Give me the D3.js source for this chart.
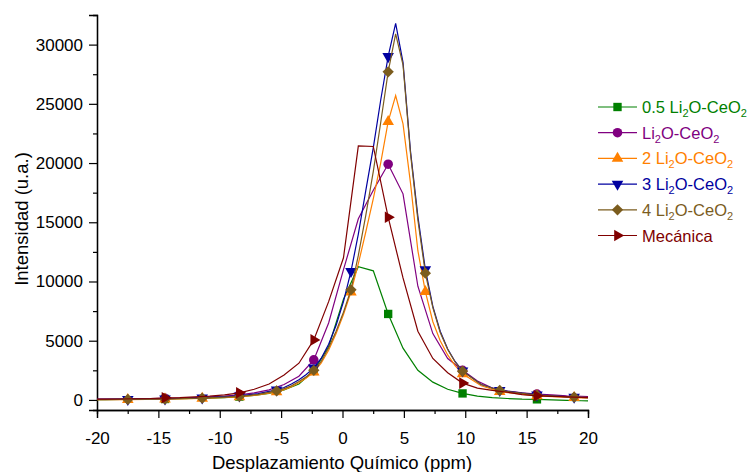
<!DOCTYPE html>
<html>
<head>
<meta charset="utf-8">
<script src="https://cdn.jsdelivr.net/npm/d3@7"></script>
<style>
  body { margin: 0; background: #fff; }
  svg { display: block; font-family: Arial, "Liberation Sans", sans-serif; }
</style>
</head>
<body>
<svg id="chart" width="749" height="472"></svg>
<script>
// Chemical shift grids (ppm): fine grid (0.606 ppm) and coarse grid (1.212 ppm)
const xFine = [-20, -17.49, -14.46, -11.43, -8.40, -6.88, -5.37, -4.76, -4.16, -3.55, -2.95, -2.34,
  -1.74, -1.13, -0.52, 0.08, 0.69, 1.29, 1.90, 2.51, 3.11, 3.72, 4.33, 4.93, 5.54, 6.14, 6.75,
  7.36, 7.96, 8.57, 9.17, 9.78, 11.30, 12.81, 15.84, 18.87, 20];
const xCoarse = [-20, -19.31, -18.10, -16.88, -15.67, -14.46, -13.25, -12.04, -10.82, -9.61, -8.40,
  -7.19, -5.98, -4.76, -3.55, -2.34, -1.13, 0.08, 1.29, 2.51, 3.72, 4.93, 6.14, 7.36, 8.57, 9.78,
  10.99, 12.20, 13.42, 14.63, 15.84, 17.05, 18.26, 19.48, 20];

// Positions that carry a symbol
const markFine = [-17.49, -14.46, -11.43, -8.40, -5.37, -2.34, 0.69, 3.72, 6.75, 9.78, 12.81, 15.84, 18.87];
const markCoarse = [-14.46, -8.40, -2.34, 3.72, 9.78, 15.84];

// Intensities (a.u.)
const y05Li2O = [30, 30, 40, 50, 60, 80, 100, 120, 150, 200, 280, 380, 550, 850, 1350, 2450, 4500,
  8500, 11250, 10900, 7260, 4370, 2500, 1500, 900, 550, 320, 200, 120, 60, 50, 0, -40, -70, -80];
const y1Li2O = [60, 70, 80, 90, 110, 130, 160, 200, 260, 330, 430, 600, 850, 1300, 2000, 3380, 6500,
  11000, 15300, 17700, 19900, 17400, 9600, 5600, 3500, 2500, 1600, 1000, 750, 600, 500, 420, 350, 310, 290];
const y2Li2O = [20, 30, 60, 120, 250, 420, 680, 870, 1120, 1450, 1850, 2350, 3100, 4200, 5600, 7200,
  9100, 11500, 14200, 17000, 20000, 23500, 25700, 23300, 18300, 12600, 9150, 6600, 5000, 3800, 2900,
  2200, 1200, 700, 350, 200, 160];
const y3Li2O = [50, 60, 100, 180, 350, 530, 850, 1050, 1350, 1700, 2150, 2700, 3500, 4700, 6300, 8300,
  10850, 14000, 17700, 21300, 25300, 29000, 31800, 28500, 21000, 15500, 11000, 7900, 5800, 4300, 3250,
  2450, 1300, 820, 420, 240, 200];
const y4Li2O = [30, 40, 80, 150, 300, 470, 760, 950, 1200, 1550, 1950, 2500, 3250, 4400, 5800, 7400,
  9300, 12200, 15600, 19300, 23400, 27700, 30900, 28300, 20800, 15200, 10700, 7800, 5700, 4250, 3200,
  2420, 1300, 800, 400, 240, 200];
const yMecanica = [60, 70, 80, 100, 120, 180, 200, 250, 320, 420, 600, 900, 1350, 2100, 3100, 5070,
  8300, 12000, 21450, 21400, 15430, 10300, 5800, 3500, 2300, 1420, 1000, 800, 650, 450, 350, 300, 250, 220, 210];

// Legend labels: [prefix, subscript, middle, subscript] pieces
const labels = [
  ["0.5 Li", "2", "O-CeO", "2"],
  ["Li", "2", "O-CeO", "2"],
  ["2 Li", "2", "O-CeO", "2"],
  ["3 Li", "2", "O-CeO", "2"],
  ["4 Li", "2", "O-CeO", "2"],
  ["Mecánica"]
];
const colors = ["#008000", "#800080", "#ff8000", "#0000a0", "#7b5c1e", "#800000"];

const xTicks = [-20, -15, -10, -5, 0, 5, 10, 15, 20];
const xMinor = [-17.5, -12.5, -7.5, -2.5, 2.5, 7.5, 12.5, 17.5];
const yTicks = [0, 5000, 10000, 15000, 20000, 25000, 30000];
const yMinor = [2500, 7500, 12500, 17500, 22500, 27500];

const series = [
  { x: xCoarse, y: y05Li2O, marks: markCoarse, sym: "square" },
  { x: xCoarse, y: y1Li2O, marks: markCoarse, sym: "circle" },
  { x: xFine, y: y2Li2O, marks: markFine, sym: "up" },
  { x: xFine, y: y3Li2O, marks: markFine, sym: "down" },
  { x: xFine, y: y4Li2O, marks: markFine, sym: "diamond" },
  { x: xCoarse, y: yMecanica, marks: markCoarse, sym: "right" }
];

const svg = d3.select("#chart");
const x = d3.scaleLinear().domain([-20, 20]).range([97, 588]);
const y = d3.scaleLinear().domain([-850, 32500]).range([410, 15]);

function symbolPath(kind) {
  switch (kind) {
    case "square": return { d: d3.symbol(d3.symbolSquare, 70)(), rot: 0 };
    case "circle": return { d: d3.symbol(d3.symbolCircle, 72)(), rot: 0 };
    case "up": return { d: d3.symbol(d3.symbolTriangle, 58)(), rot: 0 };
    case "down": return { d: d3.symbol(d3.symbolTriangle, 58)(), rot: 180 };
    case "diamond": return { d: d3.symbol(d3.symbolSquare, 64)(), rot: 45 };
    case "right": return { d: d3.symbol(d3.symbolTriangle, 58)(), rot: 90 };
  }
}

const fmt = d => String(d);

// Axes
const axisG = svg.append("g");
axisG.append("g").attr("transform", "translate(0,410)")
  .call(d3.axisBottom(x).tickValues(xTicks).tickSize(8).tickPadding(14).tickFormat(fmt));
axisG.append("g").attr("transform", "translate(0,410)")
  .call(d3.axisBottom(x).tickValues(xMinor).tickSize(4).tickFormat(""));
axisG.append("g").attr("transform", "translate(97,0)")
  .call(d3.axisLeft(y).tickValues(yTicks).tickSize(8).tickPadding(6).tickFormat(fmt));
axisG.append("g").attr("transform", "translate(97,0)")
  .call(d3.axisLeft(y).tickValues(yMinor).tickSize(4).tickFormat(""));
axisG.selectAll(".domain").attr("stroke", "#000").attr("stroke-width", 1.3);
axisG.selectAll(".tick line").attr("stroke", "#000").attr("stroke-width", 1.2);
axisG.selectAll(".tick text").attr("fill", "#000").style("font-size", "17px")
  .style("font-family", "Arial, 'Liberation Sans', sans-serif");

// Axis titles
svg.append("text").attr("x", 342).attr("y", 469).attr("text-anchor", "middle")
  .style("font-size", "18.5px").attr("fill", "#000").text("Desplazamiento Químico (ppm)");
svg.append("text").attr("transform", "translate(28,219) rotate(-90)").attr("text-anchor", "middle")
  .style("font-size", "18.5px").attr("fill", "#000").text("Intensidad (u.a.)");

// Series: line then symbols
const line = d3.line().x(d => x(d[0])).y(d => y(d[1]));
series.forEach((s, i) => {
  const pts = s.x.map((v, k) => [v, s.y[k]]);
  svg.append("path").datum(pts).attr("d", line).attr("fill", "none")
    .attr("stroke", colors[i]).attr("stroke-width", 1.2);
  const sp = symbolPath(s.sym);
  svg.append("g").selectAll("path").data(pts.filter(p => s.marks.includes(p[0])))
    .join("path").attr("d", sp.d).attr("fill", colors[i])
    .attr("transform", d => `translate(${x(d[0])},${y(d[1])}) rotate(${sp.rot})`);
});

// Legend
const legend = svg.append("g");
labels.forEach((lab, i) => {
  const cy = 107 + i * 25.7;
  const g = legend.append("g");
  g.append("line").attr("x1", 598).attr("x2", 637).attr("y1", cy).attr("y2", cy)
    .attr("stroke", colors[i]).attr("stroke-width", 1.2);
  const sp = symbolPath(series[i].sym);
  g.append("path").attr("d", sp.d).attr("fill", colors[i])
    .attr("transform", `translate(617.5,${cy}) rotate(${sp.rot})`);
  const t = g.append("text").attr("x", 642).attr("y", cy + 6).attr("fill", colors[i])
    .style("font-size", "16.5px");
  lab.forEach((part, k) => {
    const ts = t.append("tspan").text(part);
    if (k % 2 === 1) ts.style("font-size", "11px").attr("dy", 4);
    else if (k > 0) ts.attr("dy", -4);
  });
});
</script>
</body>
</html>
